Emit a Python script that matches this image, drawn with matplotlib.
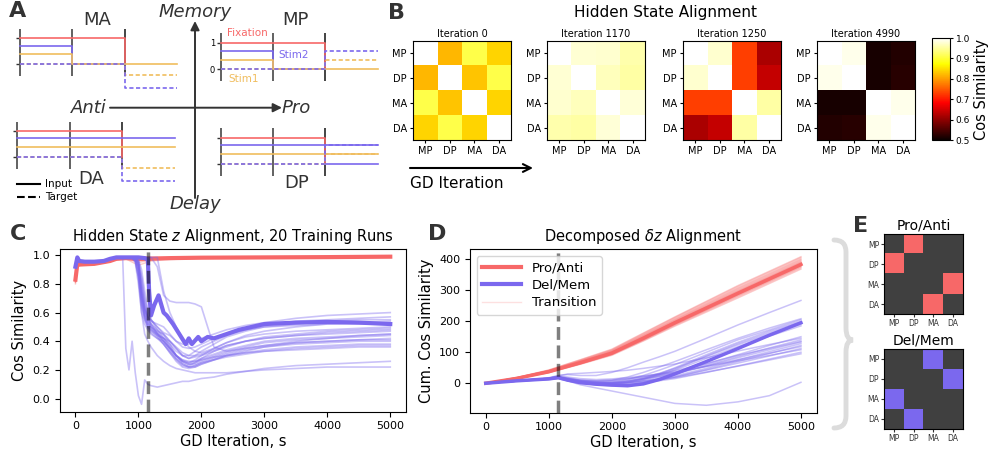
import matplotlib
matplotlib.use('Agg')
import matplotlib.pyplot as plt
from matplotlib.lines import Line2D
from matplotlib.path import Path
from matplotlib.patches import PathPatch
from matplotlib.colors import ListedColormap

W, H = 989, 454
RED = '#f76868'
BLUE = '#7b68ee'
ORANGE = '#f0bd5e'
DARK = '#333333'

# ---------------- panel A: task schematics, levels per epoch ----------------
fixation_in = [1, 1, 0]
stim1_in = {'MA': [0.38, 0, 0], 'MP': [0.35, 0, 0], 'DA': [0.38, 0.38, 0.38], 'DP': [0.38, 0.38, 0.38]}
stim2_in = {'MA': [0.7, 0, 0], 'MP': [0.7, 0, 0], 'DA': [0.72, 0.72, 0.72], 'DP': [0.72, 0.72, 0.72]}
stim1_tgt = {'MA': [0, 0, -0.42], 'MP': [0, 0, 0.35], 'DA': [0, 0, -0.4], 'DP': [0, 0, 0.38]}
stim2_tgt = {'MA': [0, 0, -0.92], 'MP': [0, 0, 0.7], 'DA': [0, 0, -0.9], 'DP': [0, 0, 0.72]}
# colour of the zero line in the response epoch (None: not drawn)
response_zero = {'MA': ORANGE, 'MP': ORANGE, 'DA': None, 'DP': BLUE}

# ---------------- panel B: alignment matrices ----------------
task_names = ['MP', 'DP', 'MA', 'DA']
snap_iters = [0, 1170, 1250, 4990]
snap_0 = [[1, .82, .91, .84], [.82, 1, .83, .91], [.91, .83, 1, .84], [.84, .91, .84, 1]]
snap_1170 = [[1, .978, .975, .958], [.978, 1, .965, .955], [.975, .965, 1, .98], [.958, .955, .98, 1]]
snap_1250 = [[1, .975, .73, .62], [.975, 1, .73, .64], [.73, .73, 1, .955], [.62, .64, .955, 1]]
snap_4990 = [[1, .99, .51, .518], [.99, 1, .51, .522], [.51, .51, 1, .99], [.518, .522, .99, 1]]

transition_iter = 1150

# ---------------- panel C: hidden state alignment ----------------
c_iters = [0, 30, 60, 150, 300, 450, 550, 650, 750, 800, 850, 900, 950, 1000, 1050, 1100, 1150, 1200,
           1300, 1400, 1500, 1600, 1700, 1800, 1900, 2000, 2200, 2400, 2700, 3000, 3500, 4000, 4500, 5000]
c_blue_early = [0.92, 0.985, 0.96, 0.955, 0.955, 0.96, 0.975, 0.985, 0.985]
c_blue_runs = [
    [.35, .20, .40, .18, .02, -.04, .13, .10, .09, .08, .09, .10, .11, .12, .12, .13, .14, .15, .17, .19, .21, .23, .24, .25, .26],
    [.985, .985, .98, .97, .85, .60, .45, .40, .36, .30, .26, .23, .21, .20, .19, .18, .18, .18, .18, .19, .20, .21, .22, .22, .22],
    [.985, .985, .985, .985, .985, .985, .985, .985, .985, .92, .72, .68, .67, .67, .67, .66, .64, .36, .33, .35, .37, .40, .42, .44, .45],
    [.985, .985, .985, .985, .985, .985, .985, .985, .985, .985, .75, .60, .50, .42, .36, .33, .32, .35, .39, .44, .47, .50, .52, .53, .54],
    [.985, .985, .985, .98, .95, .75, .62, .57, .55, .50, .46, .44, .40, .38, .38, .40, .42, .45, .48, .51, .53, .56, .58, .59, .60],
    [.985, .985, .98, .96, .85, .65, .55, .50, .48, .45, .42, .38, .33, .30, .30, .33, .36, .40, .44, .48, .51, .54, .55, .56, .57],
    [.985, .985, .985, .98, .93, .70, .58, .52, .50, .47, .45, .40, .35, .30, .28, .30, .33, .38, .43, .47, .50, .52, .54, .55, .55],
    [.985, .985, .985, .98, .90, .72, .62, .55, .52, .48, .44, .38, .30, .26, .25, .27, .30, .35, .39, .43, .45, .47, .48, .49, .50],
    [.985, .985, .98, .95, .80, .60, .52, .48, .45, .42, .40, .35, .30, .25, .23, .25, .28, .33, .37, .40, .43, .45, .47, .48, .49],
    [.985, .985, .985, .985, .96, .85, .70, .60, .55, .50, .45, .40, .35, .30, .28, .29, .30, .33, .36, .40, .42, .44, .46, .47, .48],
    [.985, .985, .98, .97, .88, .68, .56, .50, .47, .44, .42, .40, .36, .32, .30, .30, .31, .34, .37, .40, .42, .44, .45, .46, .47],
    [.985, .985, .985, .98, .93, .74, .60, .54, .50, .46, .42, .36, .30, .27, .25, .26, .28, .31, .34, .37, .40, .42, .43, .44, .45],
    [.985, .985, .985, .985, .97, .90, .75, .62, .55, .48, .42, .36, .30, .26, .24, .25, .27, .30, .33, .36, .39, .41, .42, .43, .44],
    [.985, .985, .98, .96, .85, .66, .56, .50, .46, .42, .38, .33, .28, .24, .22, .22, .24, .27, .30, .33, .36, .39, .40, .41, .42],
    [.985, .985, .985, .98, .92, .72, .60, .53, .49, .45, .40, .35, .30, .26, .24, .24, .26, .29, .32, .35, .37, .39, .40, .41, .41],
    [.985, .985, .985, .985, .95, .80, .65, .57, .52, .46, .40, .34, .28, .24, .22, .23, .25, .28, .31, .34, .36, .38, .39, .40, .40],
    [.985, .985, .98, .97, .90, .70, .58, .52, .48, .43, .38, .32, .26, .22, .21, .22, .24, .27, .30, .32, .34, .36, .37, .38, .38],
    [.985, .985, .985, .98, .94, .78, .64, .56, .50, .44, .38, .32, .27, .23, .22, .23, .25, .27, .29, .31, .33, .35, .36, .37, .37],
    [.985, .985, .985, .985, .96, .84, .68, .58, .52, .45, .40, .35, .30, .27, .26, .26, .27, .29, .30, .32, .33, .34, .35, .36, .36],
    [.985, .985, .985, .98, .94, .76, .63, .57, .54, .52, .50, .45, .40, .36, .35, .36, .38, .42, .45, .48, .50, .51, .52, .52, .52],
]
c_bold_iters = [0, 30, 60, 150, 300, 450, 550, 650, 750, 900, 1000, 1100, 1150, 1170, 1200, 1250, 1320, 1400,
                1450, 1550, 1650, 1750, 1800, 1850, 1950, 2000, 2100, 2200, 2400, 2600, 2800, 3000, 3500, 4000, 4500, 5000]
c_bold_blue = [0.92, 0.985, 0.96, 0.955, 0.955, 0.96, 0.975, 0.985, 0.985, 0.985, 0.985, 0.98, 0.97, 0.75, 0.58, 0.65,
               0.72, 0.60, 0.58, 0.52, 0.45, 0.38, 0.42, 0.38, 0.43, 0.40, 0.43, 0.42, 0.45, 0.48, 0.50, 0.52, 0.53,
               0.535, 0.53, 0.52]
c_red_iters = [0, 30, 60, 300, 550, 650, 800, 1000, 1200, 1500, 2000, 3000, 4000, 5000]
c_red_runs = [
    [.80, .93, .93, .935, .955, .97, .975, .93, .96, .97, .978, .982, .985, .988],
    [.81, .935, .93, .937, .957, .972, .978, .96, .97, .975, .98, .984, .986, .99],
    [.82, .94, .932, .94, .958, .974, .98, .975, .975, .978, .982, .985, .987, .99],
    [.83, .94, .935, .94, .96, .975, .98, .977, .978, .98, .983, .985, .987, .99],
    [.84, .945, .937, .942, .962, .976, .982, .978, .98, .982, .984, .986, .988, .991],
    [.85, .945, .94, .945, .963, .978, .983, .97, .972, .978, .983, .986, .988, .991],
    [.86, .95, .94, .945, .965, .98, .985, .98, .982, .983, .985, .987, .989, .992],
    [.82, .935, .93, .938, .957, .972, .978, .95, .965, .975, .981, .984, .986, .989],
    [.84, .94, .935, .94, .96, .975, .98, .976, .977, .98, .983, .985, .987, .99],
    [.83, .938, .933, .939, .959, .974, .979, .974, .976, .979, .982, .985, .987, .99],
    [.85, .943, .936, .941, .961, .976, .981, .979, .98, .981, .984, .986, .988, .991],
    [.81, .932, .928, .936, .956, .971, .977, .965, .968, .976, .98, .983, .986, .989],
    [.86, .947, .938, .943, .962, .977, .982, .98, .981, .982, .984, .987, .989, .992],
    [.83, .94, .934, .94, .96, .975, .98, .972, .974, .978, .982, .985, .987, .99],
    [.84, .942, .936, .941, .961, .975, .981, .978, .979, .981, .983, .986, .988, .991],
    [.82, .936, .931, .938, .958, .973, .979, .968, .97, .977, .981, .984, .986, .989],
    [.85, .944, .937, .942, .962, .976, .982, .979, .98, .982, .984, .986, .988, .991],
    [.83, .939, .934, .94, .96, .974, .98, .975, .977, .979, .982, .985, .987, .99],
    [.84, .941, .935, .941, .96, .975, .98, .976, .978, .98, .983, .985, .987, .99],
    [.82, .937, .932, .939, .958, .973, .979, .97, .973, .978, .981, .984, .986, .989],
]
c_red_mean = [.83, .94, .935, .94, .96, .975, .98, .975, .977, .98, .983, .985, .987, .99]

# ---------------- panel D: cumulative decomposed alignment ----------------
d_red_iters = [0, 500, 1000, 1150, 1500, 2000, 2500, 3000, 4000, 5000]
d_red_runs = [
    [0, 15, 34, 42, 61, 90, 136, 184, 275, 368],
    [0, 15, 35, 43, 62, 92, 138, 187, 279, 372],
    [0, 16, 35, 44, 63, 93, 140, 189, 282, 375],
    [0, 16, 36, 44, 64, 94, 141, 190, 284, 377],
    [0, 16, 36, 45, 65, 95, 142, 192, 286, 379],
    [0, 16, 37, 45, 65, 96, 143, 193, 287, 380],
    [0, 16, 37, 46, 66, 96, 144, 194, 288, 381],
    [0, 17, 37, 46, 66, 97, 145, 195, 290, 383],
    [0, 16, 38, 47, 67, 98, 146, 196, 291, 384],
    [0, 17, 38, 47, 67, 98, 147, 197, 292, 385],
    [0, 17, 38, 47, 68, 99, 148, 198, 294, 387],
    [0, 17, 39, 48, 68, 100, 149, 199, 295, 388],
    [0, 17, 39, 48, 69, 101, 150, 200, 297, 390],
    [0, 18, 40, 49, 70, 102, 151, 202, 299, 392],
    [0, 18, 40, 49, 71, 103, 153, 204, 302, 395],
    [0, 18, 41, 50, 72, 105, 155, 206, 305, 398],
    [0, 18, 41, 51, 73, 106, 157, 209, 308, 401],
    [0, 19, 42, 52, 75, 108, 160, 212, 312, 405],
    [0, 19, 43, 53, 76, 110, 162, 214, 315, 408],
    [0, 17, 38, 47, 67, 98, 146, 196, 291, 384],
]
d_red_bold = [0, 16, 37, 46, 66, 97, 145, 195, 290, 383]

d_blue_iters = [0, 500, 1000, 1150, 1300, 1500, 1750, 2000, 2250, 2500, 2750, 3000, 3500, 4000, 4500, 5000]
d_blue_runs = [
    [0, 8, 18, 25, 28, 25, 25, 35, 50, 68, 85, 103, 145, 188, 228, 267],
    [0, 8, 15, 20, 15, 10, 8, 10, 20, 35, 52, 70, 108, 145, 178, 208],
    [0, 7, 14, 18, 12, 5, 3, 5, 12, 25, 42, 60, 100, 140, 172, 205],
    [0, 8, 16, 22, 18, 10, 5, 2, 5, 15, 30, 50, 92, 132, 168, 200],
    [0, 7, 13, 17, 10, 3, 0, 0, 4, 14, 28, 45, 88, 128, 163, 197],
    [0, 8, 15, 20, 14, 6, 2, 3, 8, 18, 32, 48, 86, 124, 158, 190],
    [0, 7, 14, 18, 10, 2, -2, 0, 6, 14, 24, 35, 62, 92, 122, 150],
    [0, 8, 16, 24, 30, 32, 35, 38, 42, 48, 55, 62, 82, 104, 125, 145],
    [0, 7, 13, 16, 8, 0, -4, -3, 2, 10, 20, 30, 58, 86, 114, 140],
    [0, 8, 15, 20, 14, 8, 5, 8, 14, 22, 30, 40, 64, 90, 112, 135],
    [0, 7, 14, 18, 12, 4, 0, 2, 8, 15, 22, 30, 55, 82, 108, 133],
    [0, 8, 16, 22, 16, 8, 3, 0, 2, 8, 15, 24, 48, 75, 102, 128],
    [0, 7, 12, 15, 8, 0, -5, -8, -5, 2, 10, 20, 44, 70, 96, 122],
    [0, 8, 15, 20, 15, 10, 8, 10, 15, 20, 27, 34, 55, 76, 97, 118],
    [0, 7, 14, 18, 10, 2, -2, -4, 0, 6, 13, 20, 42, 65, 88, 112],
    [0, 8, 16, 22, 20, 15, 12, 14, 18, 24, 30, 36, 54, 72, 90, 108],
    [0, 7, 13, 17, 10, 2, -3, -5, -3, 2, 8, 15, 35, 56, 78, 100],
    [0, 8, 15, 20, 14, 6, 2, 0, 2, 6, 12, 18, 36, 55, 75, 95],
    [0, 8, 16, 20, 8, -5, -15, -25, -35, -45, -55, -65, -71, -60, -40, 3],
    [0, 7, 14, 19, 12, 4, 0, -2, 2, 12, 26, 42, 80, 118, 152, 185],
]
d_blue_bold = [0, 8, 14, 18, 10, 2, -3, -6, -8, -2, 12, 30, 70, 112, 155, 195]

# ---------------- panel E: task groupings ----------------
pro_anti = [[0, 1, 0, 0], [1, 0, 0, 0], [0, 0, 0, 1], [0, 0, 1, 0]]
del_mem = [[0, 0, 1, 0], [0, 0, 0, 1], [1, 0, 0, 0], [0, 1, 0, 0]]


def box(x, y, w, h):
    """pixel box (left, top, width, height) -> figure fraction"""
    return [x / W, 1 - (y + h) / H, w / W, h / H]


fig = plt.figure(figsize=(W / 100, H / 100), dpi=100)

ov = fig.add_axes([0, 0, 1, 1])
ov.set_xlim(0, W)
ov.set_ylim(H, 0)
ov.axis('off')


def steps(levels):
    a, b, c = levels
    return [0, 1, 1, 2, 2, 3], [a, a, b, b, c, c]


def schematic(task, x0, zero_y, ep_w, unit, show_labels=False):
    v_lo, v_hi = -1.2, 1.5
    ax = fig.add_axes(box(x0, zero_y - v_hi * unit, 3 * ep_w, (v_hi - v_lo) * unit))
    ax.set_xlim(0, 3)
    ax.set_ylim(v_lo, v_hi)
    for s in ax.spines.values():
        s.set_visible(False)
    ax.patch.set_visible(False)
    ax.set_xticks([])
    ax.set_yticks([0, 1])
    ax.tick_params(axis='y', length=3, width=1, color=DARK, labelsize=6, pad=1)
    if show_labels:
        ax.set_yticklabels(['0', '1'])
    else:
        ax.set_yticklabels([])
    ax.vlines([0, 1], -0.45, 1.35, color='#555555', lw=1.3, clip_on=False)
    ax.vlines([2], -0.45, 1.35, color='#111111', lw=1.1, clip_on=False)
    kw = dict(lw=1.2, clip_on=False)
    # fixation: on for two epochs, then drops at the response epoch
    a, b, c = fixation_in
    ax.plot([0, 1, 2, 2], [a, b, b, c], color=RED, **kw)
    if response_zero[task] is not None:
        ax.plot([2, 3], [c, c], color=response_zero[task], **kw)
    x2, y2 = steps(stim2_in[task])
    x1, y1 = steps(stim1_in[task])
    if stim2_in[task][2] == 0:
        x2, y2, x1, y1 = x2[:4], y2[:4], x1[:4], y1[:4]
    ax.plot(x2, y2, color=BLUE, **kw)
    ax.plot(x1, y1, color=ORANGE, **kw)
    ax.plot(*steps(stim1_tgt[task]), color=ORANGE, ls=(0, (2.5, 1.5)), **kw)
    ax.plot(*steps(stim2_tgt[task]), color=BLUE, ls=(0, (2.5, 1.5)), **kw)
    if show_labels:
        ax.text(0.12, 1.36, 'Fixation', color=RED, fontsize=7.5, va='center')
        ax.text(1.11, 0.54, 'Stim2', color=BLUE, fontsize=7.5, va='center')
        ax.text(0.14, -0.36, 'Stim1', color=ORANGE, fontsize=7.5, va='center')
    return ax


schematic('MA', 20, 64, 52.3, 26)
schematic('MP', 220.7, 69.3, 52.3, 26.6, show_labels=True)
schematic('DA', 17.3, 157.3, 52.5, 26.3)
schematic('DP', 220.7, 164, 52.3, 26.3)

for name, (x, y) in zip(['MA', 'MP', 'DA', 'DP'], [(97, 20), (295, 20), (91, 179), (297, 183)]):
    ov.text(x, y, name, fontsize=13, color=DARK, ha='center', va='center')

arrow = dict(arrowstyle='-|>', color=DARK, lw=1.4, mutation_scale=13, shrinkA=0, shrinkB=0)
ov.annotate('', xy=(195, 21), xytext=(195, 198), arrowprops=arrow)
ov.annotate('', xy=(282, 107.7), xytext=(110, 107.7), arrowprops=arrow)
ov.text(195, 12, 'Memory', style='italic', fontsize=13, color=DARK, ha='center', va='center')
ov.text(195, 204, 'Delay', style='italic', fontsize=13, color=DARK, ha='center', va='center')
ov.text(107, 107.7, 'Anti', style='italic', fontsize=13, color=DARK, ha='right', va='center')
ov.text(282, 107.7, 'Pro', style='italic', fontsize=13, color=DARK, ha='left', va='center')

ov.plot([17, 40], [184, 184], color='k', lw=1.5)
ov.plot([17, 40], [197, 197], color='k', lw=1.5, ls='--')
ov.text(45, 184, 'Input', fontsize=7.5, va='center')
ov.text(45, 197, 'Target', fontsize=7.5, va='center')

# ---------------- B ----------------
snaps = [snap_0, snap_1170, snap_1250, snap_4990]
for i, (it, mat) in enumerate(zip(snap_iters, snaps)):
    ax = fig.add_axes(box([413, 547, 683, 817][i], 41, 98, 99))
    im = ax.imshow(mat, cmap='hot', vmin=0.5, vmax=1.0, aspect='auto')
    ax.set_xticks(range(4))
    ax.set_yticks(range(4))
    ax.set_xticklabels(task_names)
    ax.set_yticklabels(task_names)
    ax.tick_params(labelsize=7, length=2.5, pad=2)
    ax.set_title(f'Iteration {it}', fontsize=7, pad=3)
cax = fig.add_axes(box(932, 38, 18, 102))
cb = fig.colorbar(im, cax=cax)
cb.set_ticks([0.5, 0.6, 0.7, 0.8, 0.9, 1.0])
cb.ax.tick_params(labelsize=6.5, length=2.5, pad=1.5)
cb.set_label('Cos Similarity', fontsize=10.5, labelpad=3)
fig.text(665 / W, 1 - 12 / H, 'Hidden State Alignment', fontsize=11, ha='center', va='center')
ov.annotate('', xy=(533, 168), xytext=(410, 168),
            arrowprops=dict(arrowstyle='->', color='k', lw=1.5, mutation_scale=14, shrinkA=0, shrinkB=0))
ov.text(410, 184, 'GD Iteration', fontsize=11, ha='left', va='center')

# ---------------- C ----------------
axc = fig.add_axes(box(59.7, 249, 346.3, 162.7))
for run in c_red_runs:
    axc.plot(c_red_iters, run, color=RED, lw=1, alpha=0.35)
axc.plot(c_red_iters, c_red_mean, color=RED, lw=3)
for run in c_blue_runs:
    axc.plot(c_iters, c_blue_early + run, color=BLUE, lw=1.2, alpha=0.4)
axc.plot(c_bold_iters, c_bold_blue, color=BLUE, lw=3)
axc.axvline(transition_iter, color='k', alpha=0.5, lw=2.5, ls='--')
axc.set_yticks([0, 0.2, 0.4, 0.6, 0.8, 1.0])
axc.tick_params(labelsize=8)
axc.set_xlabel('GD Iteration, s', fontsize=10.5, labelpad=2)
axc.set_ylabel('Cos Similarity', fontsize=10.5)
axc.set_title('Hidden State $z$ Alignment, 20 Training Runs', fontsize=10.5)

# ---------------- D ----------------
axd = fig.add_axes(box(470, 249.3, 346.7, 163.4))
for run in d_red_runs:
    axd.plot(d_red_iters, run, color=RED, lw=1, alpha=0.35)
axd.plot(d_red_iters, d_red_bold, color=RED, lw=2.5)
for run in d_blue_runs:
    axd.plot(d_blue_iters, run, color=BLUE, lw=1.1, alpha=0.4)
axd.plot(d_blue_iters, d_blue_bold, color=BLUE, lw=2.5)
axd.axvline(transition_iter, color='k', alpha=0.5, lw=2.5, ls='--')
axd.set_yticks([0, 100, 200, 300, 400])
axd.tick_params(labelsize=8)
axd.set_xlabel('GD Iteration, s', fontsize=10.5, labelpad=2)
axd.set_ylabel('Cum. Cos Similarity', fontsize=10.5)
axd.set_title(r'Decomposed $\delta z$ Alignment', fontsize=10.5)
handles = [Line2D([], [], color=RED, lw=3), Line2D([], [], color=BLUE, lw=3),
           Line2D([], [], color=RED, lw=1, alpha=0.2)]
axd.legend(handles, ['Pro/Anti', 'Del/Mem', 'Transition'], loc='upper left', fontsize=9.5,
           handlelength=3, borderpad=0.4, labelspacing=0.35)

# ---------------- E ----------------
for mat, col, ttl, top in [(pro_anti, RED, 'Pro/Anti', 234), (del_mem, BLUE, 'Del/Mem', 349)]:
    ax = fig.add_axes(box(884, top, 79, 80))
    ax.imshow(mat, cmap=ListedColormap(['#404040', col]), vmin=0, vmax=1, aspect='auto')
    ax.set_xticks(range(4))
    ax.set_yticks(range(4))
    ax.set_xticklabels(task_names)
    ax.set_yticklabels(task_names)
    ax.tick_params(labelsize=5.5, length=2, pad=1.5, colors='#333333')
    ax.set_title(ttl, fontsize=10, pad=3)

brace = Path([(834, 240), (846, 240), (846, 252), (846, 328), (846, 340), (853, 340),
              (846, 340), (846, 352), (846, 416), (846, 428), (834, 428)],
             [Path.MOVETO, Path.CURVE3, Path.CURVE3, Path.LINETO, Path.CURVE3, Path.CURVE3,
              Path.CURVE3, Path.CURVE3, Path.LINETO, Path.CURVE3, Path.CURVE3])
ov.add_patch(PathPatch(brace, fill=False, ec='#dcdcdc', lw=3.5, capstyle='round'))

for letter, x, y in [('A', 18, 11), ('B', 396, 13), ('C', 18, 234), ('D', 437, 234), ('E', 861, 226)]:
    ov.text(x, y, letter, fontsize=16, fontweight='bold', color=DARK, ha='center', va='center')

fig.savefig('out.png', dpi=100)
